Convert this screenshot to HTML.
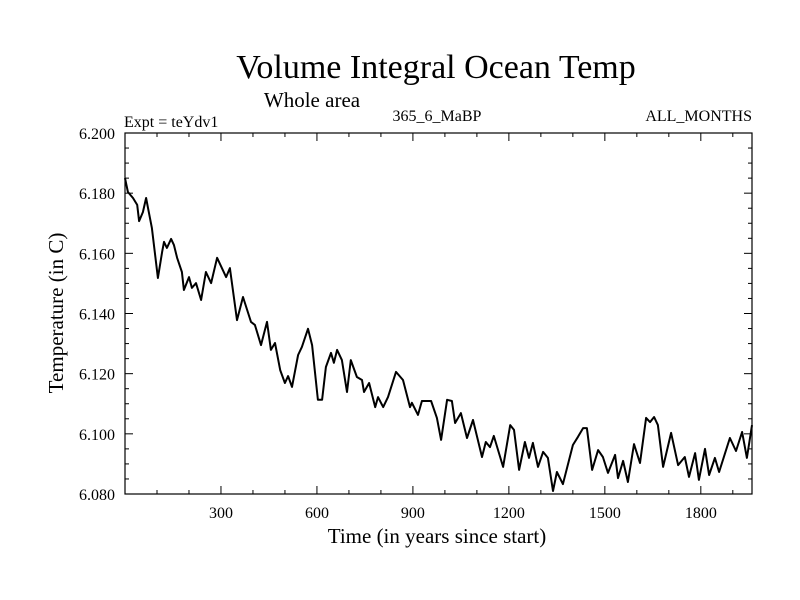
<!DOCTYPE html>
<html><head><meta charset="utf-8"><style>
body{margin:0;background:#fff}
svg{display:block;font-family:"Liberation Serif",serif}
</style></head><body>
<svg id="chart" width="800" height="600">
<text x="436" y="78" font-size="34" text-anchor="middle">Volume Integral Ocean Temp</text>
<text x="312" y="107" font-size="21" text-anchor="middle">Whole area</text>
<text x="124" y="127" font-size="16">Expt = teYdv1</text>
<text x="437" y="121" font-size="16" text-anchor="middle">365_6_MaBP</text>
<text x="752" y="121" font-size="16" text-anchor="end">ALL_MONTHS</text>
<text x="437" y="543" font-size="21" text-anchor="middle">Time (in years since start)</text>
<text transform="translate(63,313) rotate(-90)" font-size="21" text-anchor="middle">Temperature (in C)</text>
<g id="axes"></g>
<path id="series" fill="none" stroke="#000" stroke-width="2" stroke-linejoin="round"></path>
<rect x="125" y="133" width="627" height="361" fill="none" stroke="#000" stroke-width="1.2"></rect>
</svg>
<script>
const years=[0,9,25,38,44,56,66,72,84,103,116,122,131,144,153,163,178,184,200,209,222,238,253,269,288,316,328,350,369,394,406,425,444,456,469,485,500,510,522,541,553,572,585,603,616,628,644,653,663,678,694,706,725,741,747,763,782,791,807,822,847,869,891,897,916,928,957,975,988,1007,1022,1032,1050,1069,1088,1116,1128,1141,1153,1182,1204,1216,1232,1250,1263,1275,1291,1307,1322,1338,1350,1369,1400,1416,1432,1444,1460,1479,1494,1510,1532,1541,1557,1572,1591,1610,1629,1641,1654,1666,1682,1707,1729,1750,1763,1782,1794,1813,1826,1844,1857,1876,1891,1910,1929,1944,1960];
const temps=[6.1850,6.1804,6.1784,6.1761,6.1707,6.1737,6.1784,6.1751,6.1684,6.1518,6.1604,6.1638,6.1618,6.1648,6.1628,6.1585,6.1538,6.1478,6.1521,6.1485,6.1501,6.1445,6.1538,6.1501,6.1585,6.1521,6.1551,6.1378,6.1455,6.1372,6.1362,6.1295,6.1372,6.1279,6.1302,6.1212,6.1169,6.1192,6.1156,6.1262,6.1289,6.1349,6.1295,6.1113,6.1113,6.1222,6.1269,6.1236,6.1279,6.1245,6.1139,6.1245,6.1189,6.1179,6.1139,6.1169,6.1089,6.1122,6.1089,6.1122,6.1206,6.1179,6.1089,6.1103,6.1063,6.1109,6.1109,6.1053,6.0980,6.1113,6.1109,6.1036,6.1069,6.0986,6.1046,6.0923,6.0973,6.0956,6.0993,6.0890,6.1029,6.1013,6.0880,6.0973,6.0920,6.0970,6.0890,6.0940,6.0920,6.0810,6.0873,6.0833,6.0963,6.0990,6.1019,6.1019,6.0880,6.0946,6.0923,6.0870,6.0930,6.0853,6.0910,6.0840,6.0966,6.0903,6.1053,6.1039,6.1056,6.1029,6.0890,6.1003,6.0896,6.0923,6.0857,6.0936,6.0847,6.0950,6.0863,6.0920,6.0873,6.0936,6.0986,6.0943,6.1006,6.0920,6.1029];
const xTickValues=[300,600,900,1200,1500,1800];
const yTickValues=[6.08,6.10,6.12,6.14,6.16,6.18,6.20];
const yTickLabels=["6.080","6.100","6.120","6.140","6.160","6.180","6.200"];
const X0=125,X1=752,Y0=494,Y1=133,XMAX=1960,YMIN=6.08,YMAX=6.20;
const sx=v=>X0+(v/XMAX)*(X1-X0);
const sy=v=>Y0-(v-YMIN)/(YMAX-YMIN)*(Y0-Y1);
const NS="http://www.w3.org/2000/svg";
const axes=document.getElementById('axes');
function line(x1,y1,x2,y2,name){const l=document.createElementNS(NS,'line');
l.setAttribute('x1',x1);l.setAttribute('y1',y1);l.setAttribute('x2',x2);l.setAttribute('y2',y2);
l.setAttribute('stroke','#000');l.setAttribute('stroke-width','1');


axes.appendChild(l);}
function text(x,y,s,anchor,name){const t=document.createElementNS(NS,'text');
t.setAttribute('x',x);t.setAttribute('y',y);t.setAttribute('font-size','16');t.setAttribute('text-anchor',anchor);t.textContent=s;


axes.appendChild(t);}
for(let v=100;v<XMAX;v+=100){const x=sx(v);const major=v%300===0;const L=major?8:4;
line(x,Y0,x,Y0-L,'x-tick');line(x,Y1,x,Y1+L,'x-tick-top');}
xTickValues.forEach(v=>text(sx(v),518,String(v),'middle','x-tick-label'));
for(let k=0;k<=24;k++){const v=YMIN+k*0.005;const y=sy(v);const major=k%4===0;const L=major?8:4;
line(X0,y,X0+L,y,'y-tick');line(X1,y,X1-L,y,'y-tick-right');}
yTickValues.forEach((v,i)=>text(115,sy(v)+6,yTickLabels[i],'end','y-tick-label'));
document.getElementById('series').setAttribute('d',years.map((y,i)=>(i?'L':'M')+sx(y).toFixed(1)+','+sy(temps[i]).toFixed(1)).join(''));
</script>
</body></html>
